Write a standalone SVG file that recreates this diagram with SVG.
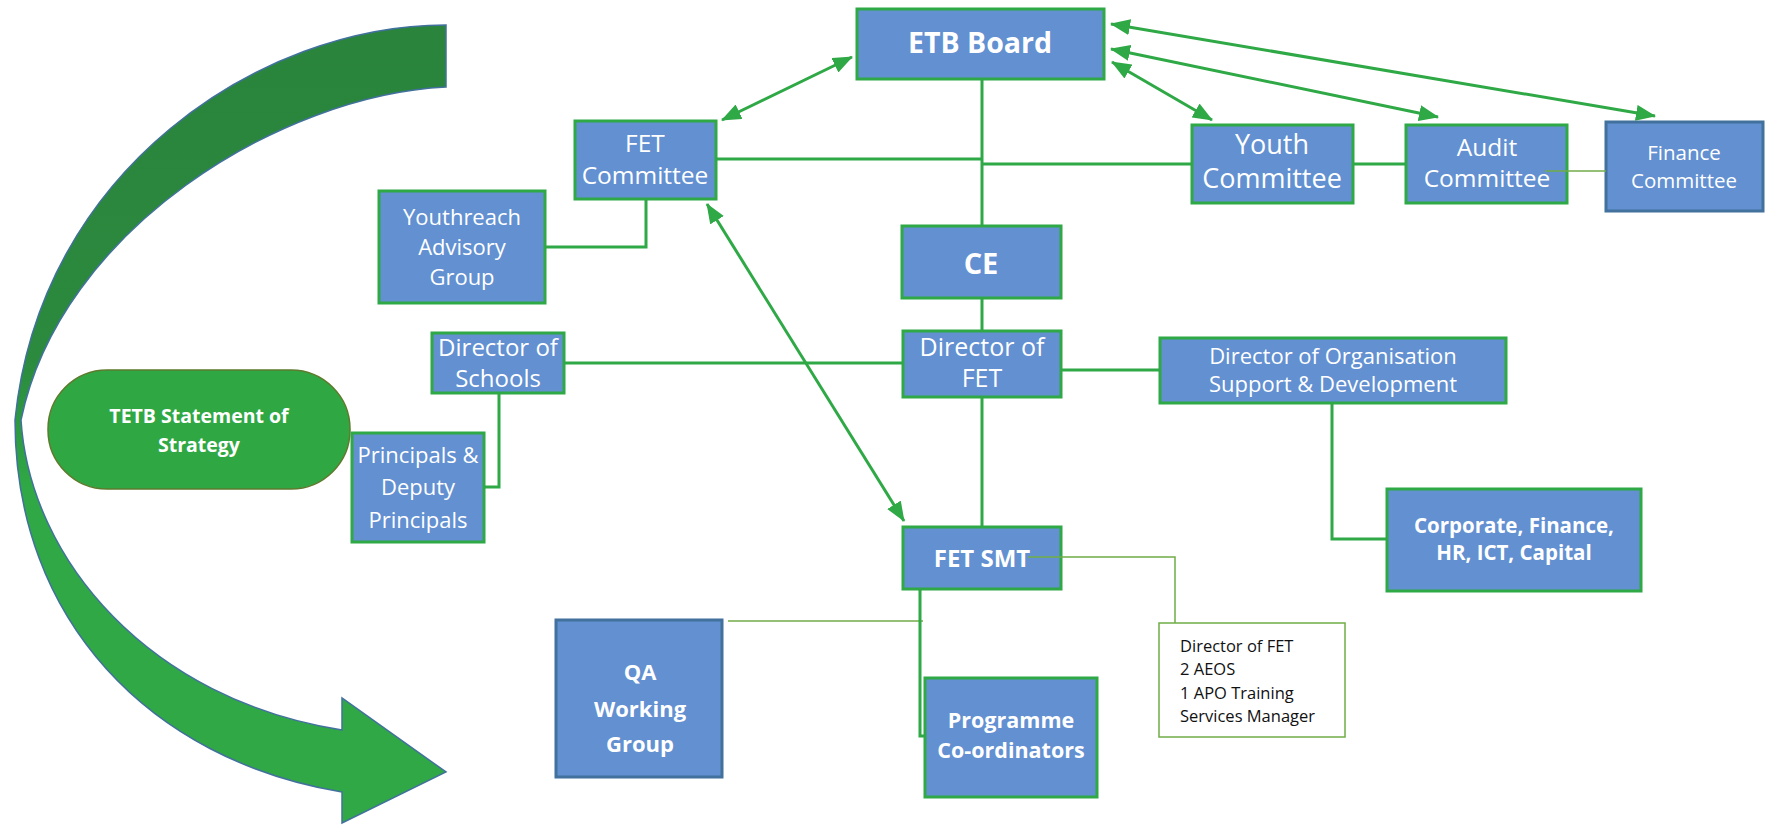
<svg xmlns="http://www.w3.org/2000/svg" width="1765" height="825" viewBox="0 0 1765 825">
<style>
.box{fill:#6290D1;stroke:#2FA846;stroke-width:3}
.box2{fill:#6290D1;stroke:#41719C;stroke-width:3}
.note{fill:#fff;stroke:#70AD47;stroke-width:1.5}
.t{font-family:"Open Sans","Liberation Sans",sans-serif;fill:#fff;text-anchor:middle}
.b{font-weight:bold}
.k{font-family:"Open Sans","Liberation Sans",sans-serif;fill:#111;font-size:16.5px}
.ln{stroke:#2FA846;stroke-width:3;fill:none}
.thin{stroke:#70AD47;stroke-width:1.5;fill:none}
.arr{stroke:#2FA846;stroke-width:3;fill:none;marker-start:url(#ah);marker-end:url(#ah)}
</style>
<defs>
<linearGradient id="g" gradientUnits="userSpaceOnUse" x1="0" y1="25" x2="0" y2="823">
<stop offset="0" stop-color="#2A843C"/>
<stop offset="0.42" stop-color="#2B8A3E"/>
<stop offset="0.58" stop-color="#30A845"/>
<stop offset="1" stop-color="#30A845"/>
</linearGradient>
<marker id="ah" viewBox="0 0 20 16" refX="19" refY="8" markerWidth="20" markerHeight="16" markerUnits="userSpaceOnUse" orient="auto-start-reverse">
<path d="M0,0 L20,8 L0,16 z" fill="#2FA846"/>
</marker>
</defs>

<g id="curved-arrow">
<path d="M446,25 C260,25 40,170 15,420 C15,620 150,760 342,792 L342,823 L446,772 L342,698 L342,730 C150,700 30,560 21,420 C60,230 280,95 446,87 Z" fill="url(#g)" stroke="#41719C" stroke-width="1.5"/>
</g>

<g id="strategy">
<rect x="48" y="370" width="302" height="119" rx="59" fill="#2FA844" stroke="#5E7A2C" stroke-width="1.5"/>
<text class="t b" font-size="19.5" x="199" y="423">TETB Statement of</text>
<text class="t b" font-size="19.5" x="199" y="452">Strategy</text>
</g>

<g id="etb-board">
<rect class="box" x="857" y="9" width="247" height="70"/>
<text class="t b" font-size="28.5" x="980" y="53">ETB Board</text>
</g>

<g id="fet-committee">
<rect class="box" x="575" y="121" width="141" height="78"/>
<text class="t" font-size="24.5" x="645" y="152">FET</text>
<text class="t" font-size="24.5" x="645" y="184">Committee</text>
</g>

<g id="youth-committee">
<rect class="box" x="1192" y="125" width="161" height="78"/>
<text class="t" font-size="27" x="1272" y="154">Youth</text>
<text class="t" font-size="27" x="1272" y="188">Committee</text>
</g>

<g id="audit-committee">
<rect class="box" x="1406" y="125" width="161" height="78"/>
<text class="t" font-size="24.5" x="1487" y="156">Audit</text>
<text class="t" font-size="24.5" x="1487" y="187">Committee</text>
</g>

<g id="finance-committee">
<rect class="box2" x="1606" y="122" width="157" height="89"/>
<text class="t" font-size="20.5" x="1684" y="160">Finance</text>
<text class="t" font-size="20.5" x="1684" y="188">Committee</text>
</g>

<g id="ce">
<rect class="box" x="902" y="226" width="159" height="72"/>
<text class="t b" font-size="29" x="981" y="274">CE</text>
</g>

<g id="youthreach">
<rect class="box" x="379" y="191" width="166" height="112"/>
<text class="t" font-size="22" x="462" y="225">Youthreach</text>
<text class="t" font-size="22" x="462" y="255">Advisory</text>
<text class="t" font-size="22" x="462" y="285">Group</text>
</g>

<g id="director-schools">
<rect class="box" x="432" y="333" width="132" height="60"/>
<text class="t" font-size="24" x="498" y="356">Director of</text>
<text class="t" font-size="24" x="498" y="387">Schools</text>
</g>

<g id="principals">
<rect class="box" x="352" y="433" width="132" height="109"/>
<text class="t" font-size="22" x="418" y="463">Principals &amp;</text>
<text class="t" font-size="22" x="418" y="495">Deputy</text>
<text class="t" font-size="22" x="418" y="528">Principals</text>
</g>

<g id="director-fet">
<rect class="box" x="903" y="331" width="158" height="66"/>
<text class="t" font-size="25" x="982" y="356">Director of</text>
<text class="t" font-size="25" x="982" y="387">FET</text>
</g>

<g id="director-org">
<rect class="box" x="1160" y="338" width="346" height="65"/>
<text class="t" font-size="22" x="1333" y="364">Director of Organisation</text>
<text class="t" font-size="22" x="1333" y="392">Support &amp; Development</text>
</g>

<g id="corporate">
<rect class="box" x="1387" y="489" width="254" height="102"/>
<text class="t b" font-size="20.5" x="1514" y="533">Corporate, Finance,</text>
<text class="t b" font-size="20.5" x="1514" y="560">HR, ICT, Capital</text>
</g>

<g id="fet-smt">
<rect class="box" x="903" y="527" width="158" height="62"/>
<text class="t b" font-size="24" x="982" y="567">FET SMT</text>
</g>

<g id="smt-members">
<rect class="note" x="1159" y="623" width="186" height="114"/>
<text class="k" x="1180" y="652">Director of FET</text>
<text class="k" x="1180" y="675">2 AEOS</text>
<text class="k" x="1180" y="699">1 APO Training</text>
<text class="k" x="1180" y="722">Services Manager</text>
</g>

<g id="qa-group">
<rect class="box2" x="556" y="620" width="166" height="157"/>
<text class="t b" font-size="22" x="640" y="680">QA</text>
<text class="t b" font-size="22" x="640" y="717">Working</text>
<text class="t b" font-size="22" x="640" y="752">Group</text>
</g>

<g id="programme-coordinators">
<rect class="box" x="925" y="678" width="172" height="119"/>
<text class="t b" font-size="21.5" x="1011" y="728">Programme</text>
<text class="t b" font-size="21.5" x="1011" y="758">Co-ordinators</text>
</g>

<g id="connectors">
<path class="ln" d="M982,79 V226"/>
<path class="ln" d="M716,159 H982"/>
<path class="ln" d="M982,164 H1192"/>
<path class="ln" d="M1354,164 H1406"/>
<path class="thin" d="M1545,171 H1606"/>
<path class="ln" d="M646,199 V247 H545"/>
<path class="ln" d="M564,363 H903"/>
<path class="ln" d="M499,393 V487 H484"/>
<path class="ln" d="M982,298 V331"/>
<path class="ln" d="M982,397 V527"/>
<path class="ln" d="M1062,370 H1160"/>
<path class="ln" d="M1332,403 V539 H1387"/>
<path class="thin" d="M1028,557 H1175 V623"/>
<path class="thin" d="M728,621 H923"/>
<path class="ln" d="M920,589 V736 H925"/>
<line class="arr" x1="722" y1="120" x2="852" y2="57"/>
<line class="arr" x1="1111" y1="24" x2="1655" y2="116"/>
<line class="arr" x1="1111" y1="49" x2="1438" y2="117"/>
<line class="arr" x1="1112" y1="62" x2="1212" y2="120"/>
<line class="arr" x1="707" y1="204" x2="904" y2="521"/>
</g>
</svg>
